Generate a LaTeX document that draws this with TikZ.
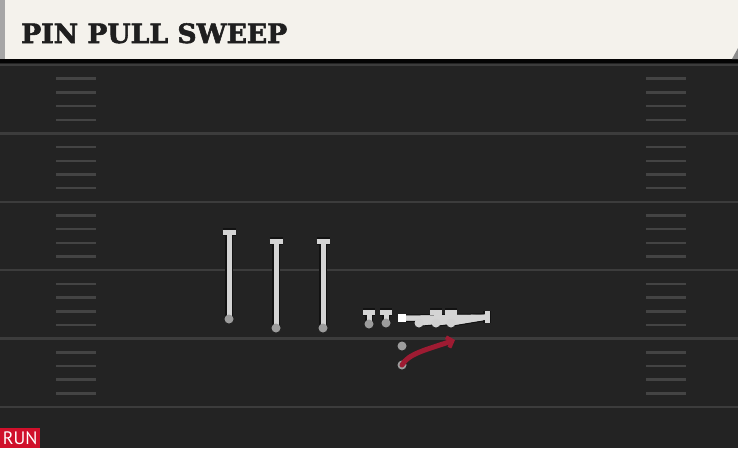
\documentclass[tikz,border=0pt]{standalone}
\usepackage{fontspec}
\usetikzlibrary{arrows.meta}
\newfontfamily\titlefont[FakeBold=2]{DejaVu Serif Bold}
\newfontfamily\tagfont{PT Sans}
\definecolor{field}{HTML}{232323}
\definecolor{cream}{HTML}{F4F2EC}
\definecolor{yardc}{HTML}{3C3C3C}
\definecolor{hashc}{HTML}{444444}
\definecolor{routec}{HTML}{D4D4D4}
\definecolor{outl}{HTML}{121212}
\definecolor{dotc}{HTML}{9C9C9C}
\definecolor{runred}{HTML}{9E1B32}
\definecolor{tagred}{HTML}{D0102B}
\begin{document}
\begin{tikzpicture}[x=1pt,y=-1pt,
  yard/.style={draw=yardc,line width=2.5pt},
  hashm/.style={draw=hashc,line width=2.5pt},
  rt/.style={draw=routec,line width=5pt,preaction={draw=outl,line width=7.5pt}},
  tbar/.style={draw=routec,line width=5pt,preaction={draw=outl,line width=7.5pt}},
  rtin/.style={draw=routec,line width=5pt},
  dot/.style={circle,fill=dotc,inner sep=0pt,minimum size=9pt},
  ctr/.style={rectangle,fill=white,inner sep=0pt,minimum size=8pt},
  runarrow/.style={draw=runred,line width=5pt,line cap=round,-{Straight Barb[length=5pt,width=11pt,line width=4pt]}}]
\useasboundingbox (0,0) rectangle (738,448);
% field
\fill[field] (0,0) rectangle (738,448);
\fill[black!90!field] (0,58) rectangle (738,63);
% yard lines and hash marks
\foreach \k in {0,...,5}{
  \pgfmathsetmacro\yy{65+68.4*\k}
  \draw[yard] (0,\yy) -- (738,\yy);
}
\foreach \k in {0,...,4}{
  \foreach \j in {1,...,4}{
    \pgfmathsetmacro\yy{65+68.4*\k+13.7*\j}
    \draw[hashm] (56,\yy) -- (96,\yy);
    \draw[hashm] (646,\yy) -- (686,\yy);
  }
}
% header
\fill[cream] (0,0) rectangle (738,59);
\fill[black!35] (0,0) rectangle (5,59);
\fill[black!45] (738,48) -- (738,59) -- (732,59) -- cycle;
\node[anchor=base west,inner sep=0pt,text=black!88] (title) at (21,43)
  {\resizebox{266pt}{!}{\titlefont\fontsize{28}{30}\selectfont PIN PULL SWEEP}};
% run tag
\node[fill=tagred,text=white,anchor=south west,inner sep=0pt,minimum width=40pt,minimum height=20pt,font=\tagfont\fontsize{18}{18}\selectfont] (tag) at (0,448) {RUN};
% receivers
\coordinate (w1t) at (229,232); \coordinate (w2t) at (276,241); \coordinate (w3t) at (323,241);
\draw[rt] (229,319) -- (w1t);
\draw[rt] (276,328) -- (w2t);
\draw[rt] (323,328) -- (w3t);
\draw[tbar] ([xshift=-6.5pt]w1t) -- ([xshift=6.5pt]w1t);
\draw[tbar] ([xshift=-6.5pt]w2t) -- ([xshift=6.5pt]w2t);
\draw[tbar] ([xshift=-6.5pt]w3t) -- ([xshift=6.5pt]w3t);
\draw[rtin] (229,319) -- ([yshift=2pt]w1t);
\draw[rtin] (276,328) -- ([yshift=2pt]w2t);
\draw[rtin] (323,328) -- ([yshift=2pt]w3t);
\node[dot] (w1) at (229,319) {};
\node[dot] (w2) at (276,328) {};
\node[dot] (w3) at (323,328) {};
% line
\coordinate (o1t) at (369,312); \coordinate (o2t) at (386,312);
\coordinate (o4t) at (436,312); \coordinate (o5t) at (451,312);
\coordinate (pe) at (487,317);
\draw[rt] (369,324) -- (o1t);
\draw[rt] (386,323) -- (o2t);
\draw[rt] (436,323) -- (o4t);
\draw[rt] (451,323) -- (o5t);
\draw[rt] (402,318) -- (420,318) -- (pe);
\draw[rt] (419,323) -- (pe);
\draw[rt] (436,323) -- (pe);
\draw[rt] (451,323) -- (pe);
\foreach \c in {o1t,o2t,o4t,o5t}{
  \draw[tbar] ([xshift=-6pt]\c) -- ([xshift=6pt]\c);
}
\draw[tbar] (487,311) -- (487,323);
\draw[rtin] (369,324) -- ([yshift=2pt]o1t);
\draw[rtin] (386,323) -- ([yshift=2pt]o2t);
\draw[rtin] (402,318) -- (420,318) -- (pe);
\draw[rtin] (419,323) -- (pe);
\draw[rtin] (436,323) -- (pe);
\draw[rtin] (451,323) -- (pe);
\draw[rtin] (436,323) -- ([yshift=2pt]o4t);
\draw[rtin] (451,323) -- ([yshift=2pt]o5t);
\draw[rtin] (487,312) -- (487,322);
\node[dot] (o1) at (369,324) {};
\node[dot] (o2) at (386,323) {};
\node[dot,fill=black!18] (o3) at (419,323) {};
\node[dot,fill=black!18] (o4) at (436,323) {};
\node[dot,fill=black!18] (o5) at (451,323) {};
\node[ctr] (c) at (402,318) {};
% backs
\node[dot] (qb) at (402,346) {};
\node[dot] (rb) at (402,365) {};
\coordinate (rbend) at (455,340);
\draw[runarrow] (rb.center) .. controls (408,354) and (425,350) .. (rbend);
\end{tikzpicture}
\end{document}
